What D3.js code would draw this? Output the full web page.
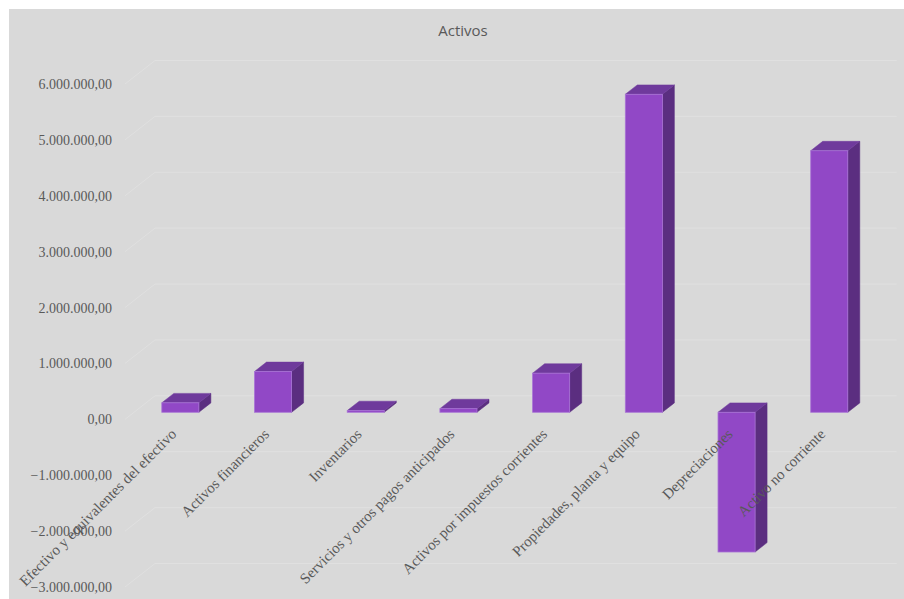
<!DOCTYPE html>
<html>
<head>
<meta charset="utf-8">
<script src="https://cdn.jsdelivr.net/npm/d3@7/dist/d3.min.js"></script>
<style>
  html, body { margin: 0; padding: 0; background: #ffffff; }
  svg { display: block; }
</style>
</head>
<body>
<svg id="chart" width="904" height="599"></svg>
<script>
// Balance: activos (valores en unidades monetarias)
const categories = [
  "Efectivo y equivalentes del efectivo",
  "Activos financieros",
  "Inventarios",
  "Servicios y otros pagos anticipados",
  "Activos por impuestos corrientes",
  "Propiedades, planta y equipo",
  "Depreciaciones",
  "Activo no corriente"
];
const values = [170000, 730000, 30000, 65000, 700000, 5690000, -2500000, 4680000];
const yTicks = [-3000000, -2000000, -1000000, 0, 1000000, 2000000, 3000000, 4000000, 5000000, 6000000];
const title = "Activos";

const W = 904, H = 599;
const svg = d3.select("#chart");

// Oblique 3D projection: full depth of the plot box
const DEPTH_X = 30, DEPTH_Y = -23.5;
const BAR_FRONT = 0.3, BAR_BACK = 0.7;   // bar position inside the depth
const BAR_WIDTH = 0.4;                   // share of the category band

const fmt = d3.formatLocale({ decimal: ",", thousands: ".", grouping: [3], currency: ["", ""] }).format(",.2f");

// Front-plane scales
const x = d3.scaleBand().domain(categories).range([125, 866.6]).padding(0);
const y = d3.scaleLinear().domain([-3000000, 6000000]).range([587, 84]);

// Chart area
svg.append("rect")
  .attr("x", 9).attr("y", 9).attr("width", W - 9).attr("height", H - 9)
  .attr("fill", "#d9d9d9");

// Title
svg.append("text")
  .attr("x", 463).attr("y", 36)
  .attr("text-anchor", "middle")
  .style("font-family", "'Open Sans', sans-serif")
  .style("font-size", "15px")
  .attr("fill", "#595959")
  .text(title);

// Gridlines on the side wall and back wall
const xLeft = x.range()[0];
const xRightBack = x.range()[1] + DEPTH_X;
svg.append("g").selectAll("path")
  .data(yTicks)
  .join("path")
  .attr("d", t => {
    const yf = y(t);
    return `M${xLeft},${yf}L${xLeft + DEPTH_X},${yf + DEPTH_Y}L${xRightBack},${yf + DEPTH_Y}`;
  })
  .attr("fill", "none")
  .attr("stroke", "#e0e0e0")
  .attr("stroke-width", 1);

// Value axis labels
const yAxis = d3.axisLeft(y)
  .tickValues(yTicks)
  .tickFormat(fmt)
  .tickSize(0)
  .tickPadding(13);
const gy = svg.append("g")
  .attr("transform", `translate(${xLeft},0)`)
  .call(yAxis);
gy.select(".domain").remove();
gy.attr("font-family", null).attr("font-size", null);
gy.selectAll("text")
  .style("font-family", "'Liberation Serif', 'Times New Roman', serif")
  .style("font-size", "14px")
  .attr("fill", "#595959");

// Bars
const bw = x.bandwidth();
const bars = svg.append("g").selectAll("g")
  .data(categories.map((c, i) => ({ c, v: values[i] })))
  .join("g");

bars.each(function (d) {
  const g = d3.select(this);
  const ox = BAR_FRONT * DEPTH_X, oy = BAR_FRONT * DEPTH_Y;
  const dx = (BAR_BACK - BAR_FRONT) * DEPTH_X, dy = (BAR_BACK - BAR_FRONT) * DEPTH_Y;
  const x0 = x(d.c) + bw * (1 - BAR_WIDTH) / 2 + ox;
  const x1 = x0 + bw * BAR_WIDTH;
  const yTop = Math.min(y(d.v), y(0)) + oy;
  const yBot = Math.max(y(d.v), y(0)) + oy;

  // right side face
  g.append("path")
    .attr("d", `M${x1},${yTop}L${x1 + dx},${yTop + dy}L${x1 + dx},${yBot + dy}L${x1},${yBot}Z`)
    .attr("fill", "#5b2e80")
    .attr("stroke", "#5b2e80").attr("stroke-width", 0.5);
  // top face
  g.append("path")
    .attr("d", `M${x0},${yTop}L${x1},${yTop}L${x1 + dx},${yTop + dy}L${x0 + dx},${yTop + dy}Z`)
    .attr("fill", "#6f3a9c")
    .attr("stroke", "#6f3a9c").attr("stroke-width", 0.5);
  // front face
  g.append("rect")
    .attr("x", x0).attr("y", yTop)
    .attr("width", x1 - x0).attr("height", Math.max(yBot - yTop, 0.8))
    .attr("fill", "#9148c6")
    .attr("stroke", "#a974d6").attr("stroke-width", 0.8);
});

// Category labels
svg.append("g").selectAll("text")
  .data(categories)
  .join("text")
  .attr("transform", c => `translate(${x(c) + bw / 2 + 6},435) rotate(-45)`)
  .attr("text-anchor", "end")
  .style("font-family", "'Liberation Serif', 'Times New Roman', serif")
  .style("font-size", "15px")
  .attr("fill", "#595959")
  .text(c => c);
</script>
</body>
</html>
